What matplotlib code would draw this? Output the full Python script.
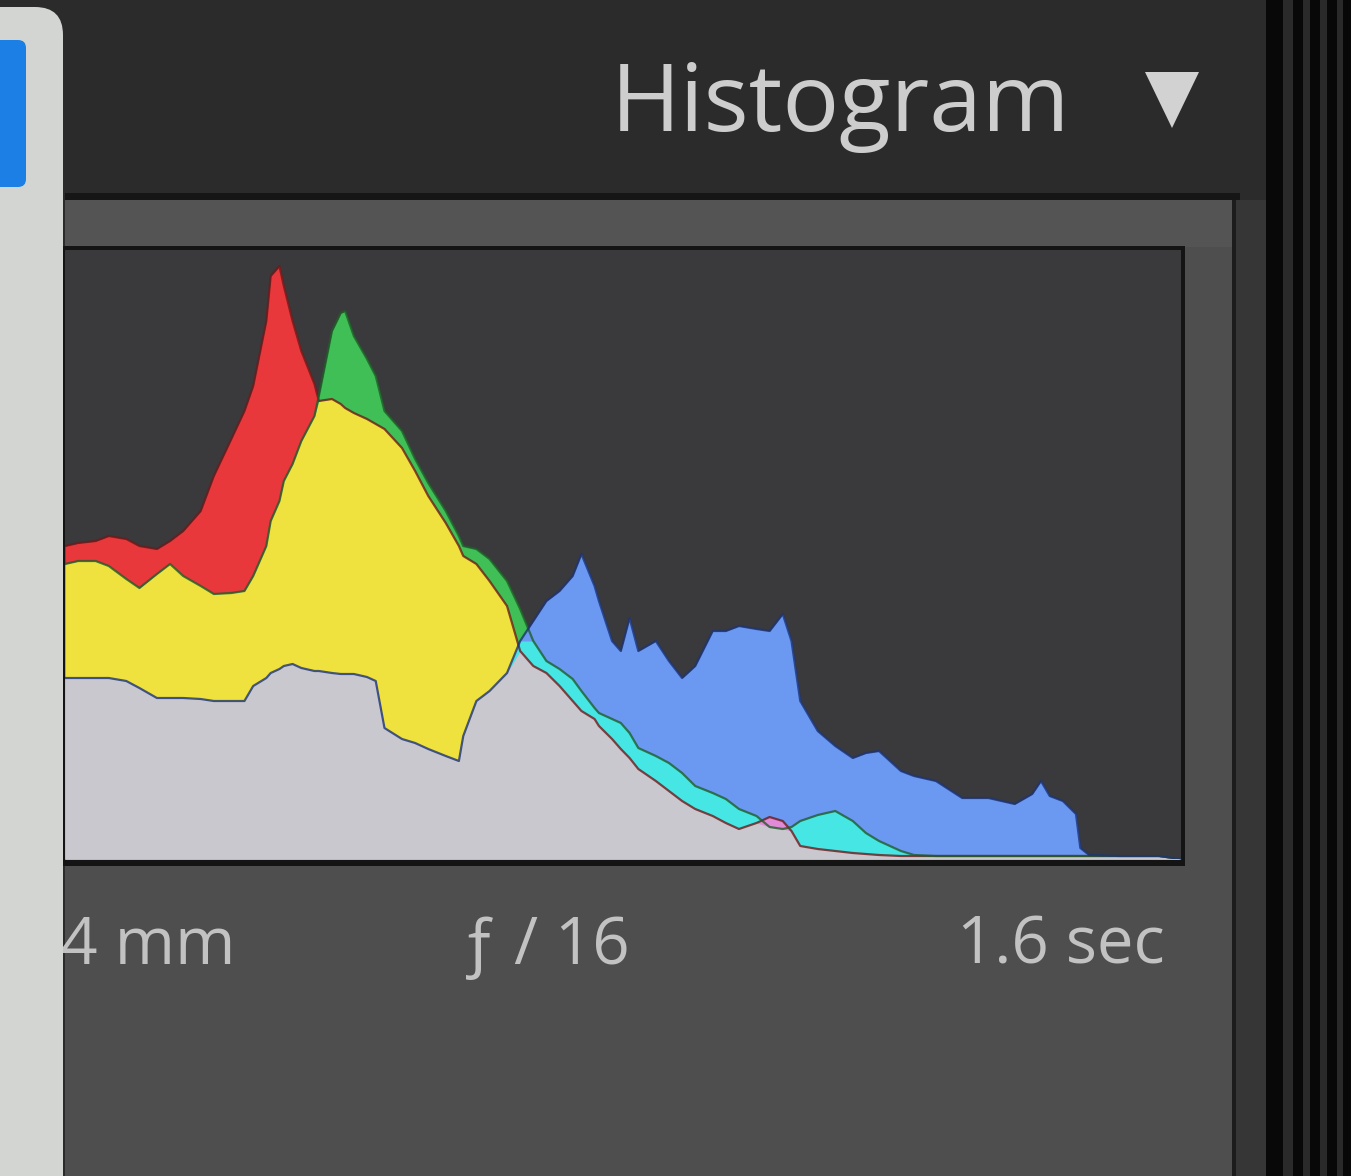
import numpy as np
import matplotlib.pyplot as plt
from matplotlib.patches import Rectangle, FancyBboxPatch, Polygon
from matplotlib.transforms import IdentityTransform

# 画布尺寸(像素)
W, H = 1351, 1176

# 色阶位置 (0-255)
levels = [0, 3, 7, 10, 14, 17, 21, 24, 27, 31,
          34, 38, 41, 43, 46, 47, 49, 50, 52, 54,
          57, 58, 61, 63, 64, 66, 69, 71, 73, 77,
          80, 83, 87, 90, 91, 94, 97, 101, 104, 107,
          110, 113, 116, 118, 121, 122, 125, 127, 129, 131,
          135, 138, 141, 144, 148, 151, 154, 158, 161, 164,
          166, 168, 172, 176, 180, 183, 186, 191, 194, 199,
          205, 211, 217, 221, 223, 225, 228, 231, 232, 234,
          241, 250, 255]

# 各通道的像素计数 (任意单位)
red = [313, 316, 318, 323, 320, 313, 310, 318, 328, 348,
       383, 420, 448, 473, 538, 583, 593, 573, 538, 508,
       475, 458, 460, 455, 451, 446, 440, 435, 430, 411,
       388, 363, 336, 313, 303, 295, 278, 253, 208, 193,
       186, 173, 158, 148, 140, 133, 120, 110, 101, 90,
       78, 68, 58, 50, 43, 36, 30, 36, 42, 38,
       28, 13, 10, 8, 6, 5, 4, 3, 3, 3,
       3, 3, 3, 3, 3, 3, 3, 3, 3, 3,
       3, 3, 0]
green = [295, 298, 298, 293, 280, 271, 285, 295, 283, 273,
         265, 266, 268, 283, 313, 338, 358, 378, 395, 418,
         443, 463, 528, 546, 548, 523, 500, 483, 448, 428,
         400, 376, 348, 323, 313, 310, 300, 278, 250, 218,
         198, 190, 180, 168, 151, 146, 140, 136, 126, 111,
         103, 96, 86, 73, 66, 60, 50, 43, 32, 30,
         32, 38, 44, 48, 38, 26, 18, 8, 4, 3,
         3, 3, 3, 3, 3, 3, 3, 3, 3, 3,
         3, 3, 0]
blue = [181, 181, 181, 181, 178, 171, 161, 161, 161, 160,
        158, 158, 158, 173, 181, 186, 190, 193, 195, 191,
        188, 188, 186, 185, 185, 185, 182, 178, 131, 120,
        116, 110, 103, 98, 123, 158, 168, 186, 218, 238,
        258, 268, 283, 305, 273, 258, 218, 208, 241, 208,
        218, 198, 181, 193, 228, 228, 233, 230, 228, 245,
        218, 158, 128, 113, 101, 106, 108, 88, 83, 78,
        61, 61, 55, 65, 78, 63, 58, 45, 11, 4,
        3, 3, 0]

title = 'Histogram'
info_labels = ['24 mm', 'ƒ / 16', '1.6 sec']

fig = plt.figure(figsize=(W / 100, H / 100), dpi=100)
fig.patch.set_facecolor('#2b2b2b')


# 用左上角像素坐标画矩形
def rect(x0, y0, x1, y1, color, z=-5):
    fig.add_artist(Rectangle((x0, H - y1), x1 - x0, y1 - y0, transform=IdentityTransform(),
                             facecolor=color, edgecolor='none', zorder=z))


# 背景面板
rect(65, 193, 1240, 200, '#161616')
rect(65, 200, 1232, H, '#4e4e4e')
rect(65, 200, 1232, 247, '#545454')
rect(1232, 200, 1236, H, '#1c1c1c')
rect(1236, 200, 1266, H, '#363636')
rect(1266, 0, W, H, '#080808')
for sx0, sx1 in [(1283, 1293), (1303, 1310), (1320, 1327), (1337, 1343)]:
    rect(sx0, 0, sx1, H, '#2a2a2a')
rect(61, 246, 1185, 866, '#141414', z=-4)

# 直方图区域
ax = fig.add_axes([65 / W, 1 - 859 / H, (1181 - 65) / W, (859 - 250) / H])
ax.set_facecolor('#3a3a3c')
ax.set_xlim(levels[0], levels[-1])
ax.set_ylim(0, 609)
ax.set_xticks([])
ax.set_yticks([])
for s in ax.spines.values():
    s.set_visible(False)

r = np.array(red)
g = np.array(green)
b = np.array(blue)

# 单通道
ax.fill_between(levels, 0, r, color='#e8383c', lw=0)
ax.fill_between(levels, 0, g, color='#3fbf55', lw=0)
ax.fill_between(levels, 0, b, color='#6b98f0', lw=0)
# 两通道重叠
ax.fill_between(levels, 0, np.minimum(r, g), color='#f0e23e', lw=0)
ax.fill_between(levels, 0, np.minimum(g, b), color='#45e6e4', lw=0)
ax.fill_between(levels, 0, np.minimum(r, b), color='#e08ad8', lw=0)
# 三通道重叠
ax.fill_between(levels, 0, np.minimum(np.minimum(r, g), b), color='#c9c8ce', lw=0)

# 边缘暗线
ax.plot(levels, red, color='#6e1a1a', lw=1.6, alpha=0.8)
ax.plot(levels, green, color='#1f5e28', lw=1.6, alpha=0.8)
ax.plot(levels, blue, color='#1c3478', lw=1.6, alpha=0.8)

# 标题和三角
fig.text(1070 / W, 1 - 131 / H, title, ha='right', va='baseline', fontsize=68,
         color='#cdcdcd', family=['Open Sans', 'DejaVu Sans'], zorder=3)
fig.add_artist(Polygon([(1145, H - 72), (1199, H - 72), (1172, H - 128)], closed=True,
                       transform=IdentityTransform(), facecolor='#d2d2d2',
                       edgecolor='none', zorder=3))

# 拍摄信息
info_x = [235, 545, 1165]
info_ha = ['right', 'center', 'right']
for lab, x, ha in zip(info_labels, info_x, info_ha):
    fig.text(x / W, 1 - 964 / H, lab, ha=ha, va='baseline', fontsize=47,
             color='#c2c2c2', family=['Open Sans', 'DejaVu Sans'], zorder=3)

# 左侧浅色面板和蓝色按钮
fig.add_artist(FancyBboxPatch((-40, -40), 103, H - 7 + 40,
                              boxstyle='round,pad=0,rounding_size=28',
                              transform=IdentityTransform(), facecolor='#d3d5d3',
                              edgecolor='none', zorder=10))
fig.add_artist(FancyBboxPatch((-20, H - 187), 46, 147,
                              boxstyle='round,pad=0,rounding_size=8',
                              transform=IdentityTransform(), facecolor='#1b7fe6',
                              edgecolor='none', zorder=11))

plt.savefig('out.png', dpi=100, facecolor=fig.get_facecolor())
plt.close()
